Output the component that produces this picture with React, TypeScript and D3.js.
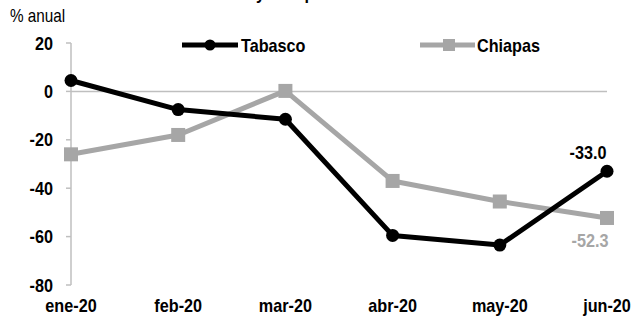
import React from "react";
import * as d3 from "d3";

const categories = ["ene-20", "feb-20", "mar-20", "abr-20", "may-20", "jun-20"];
const tabasco = [4.5, -7.5, -11.5, -59.5, -63.5, -33.0];
const chiapas = [-26.0, -18.0, 0.2, -37.0, -45.5, -52.3];
const yTicks = [20, 0, -20, -40, -60, -80];
const titleText = "Tabasco y Chiapas";

const W = 637, H = 322;
const FONT = "'Liberation Sans', Arial, sans-serif";
const BLACK = "#000000";
const GRAY = "#a6a6a6";
const AXIS = "#bfbfbf";
const SX = 0.9;

function T(props: { x: number; y: number; anchor?: "start" | "middle" | "end"; size?: number; bold?: boolean; fill?: string; children: React.ReactNode; sx?: number }) {
  const { x, y, anchor = "start", size = 18, bold = true, fill = BLACK, children, sx = SX } = props;
  return (
    <g transform={`translate(${x},${y}) scale(${sx},1)`}>
      <text x={0} y={0} textAnchor={anchor} fontFamily={FONT} fontWeight={bold ? "bold" : "normal"} fontSize={size} fill={fill}>{children}</text>
    </g>
  );
}

export default function App() {
  const x = d3.scalePoint<string>().domain(categories).range([71, 607]);
  const y = d3.scaleLinear().domain([-80, 20]).range([285, 43]);
  const line = d3.line<number>()
    .x((_, i) => x(categories[i]) as number)
    .y((d) => y(d));
  const lastX = x(categories[categories.length - 1]) as number;
  return (
    <svg width={W} height={H} style={{ position: "absolute", left: 0, top: 0, background: "#fff" }}>
      <T x={187} y={-1.5}>{titleText}</T>
      <T x={10} y={22} bold={false} sx={0.85}>% anual</T>
      {/* y axis */}
      <line x1={71} x2={71} y1={y(20)} y2={y(-80)} stroke={AXIS} strokeWidth={1.5} />
      {yTicks.map((t) => (
        <g key={t}>
          <line x1={66} x2={71} y1={y(t)} y2={y(t)} stroke={AXIS} strokeWidth={1.5} />
          <T x={53} y={y(t) + 6.5} anchor="end">{t}</T>
        </g>
      ))}
      {/* zero line */}
      <line x1={71} x2={lastX} y1={y(0)} y2={y(0)} stroke={AXIS} strokeWidth={1.5} />
      {categories.map((c) => (
        <T key={c} x={x(c) as number} y={312} anchor="middle">{c}</T>
      ))}
      {/* series */}
      <path d={line(chiapas) || ""} fill="none" stroke={GRAY} strokeWidth={5} strokeLinejoin="round" />
      {chiapas.map((v, i) => (
        <rect key={i} x={(x(categories[i]) as number) - 7} y={y(v) - 7} width={14} height={14} fill={GRAY} />
      ))}
      <path d={line(tabasco) || ""} fill="none" stroke={BLACK} strokeWidth={5} strokeLinejoin="round" />
      {tabasco.map((v, i) => (
        <circle key={i} cx={x(categories[i]) as number} cy={y(v)} r={6.5} fill={BLACK} />
      ))}
      {/* data labels */}
      <T x={lastX - 19} y={y(tabasco[5]) - 12} anchor="middle">{tabasco[5].toFixed(1)}</T>
      <T x={lastX - 17} y={y(chiapas[5]) + 29} anchor="middle" fill={GRAY}>{chiapas[5].toFixed(1)}</T>
      {/* legend */}
      <line x1={182} x2={238} y1={45} y2={45} stroke={BLACK} strokeWidth={5} />
      <circle cx={210} cy={45} r={5.5} fill={BLACK} />
      <T x={241} y={51.5}>Tabasco</T>
      <line x1={420} x2={475} y1={45} y2={45} stroke={GRAY} strokeWidth={5} />
      <rect x={443} y={39} width={12} height={12} fill={GRAY} />
      <T x={477} y={51.5}>Chiapas</T>
    </svg>
  );
}
